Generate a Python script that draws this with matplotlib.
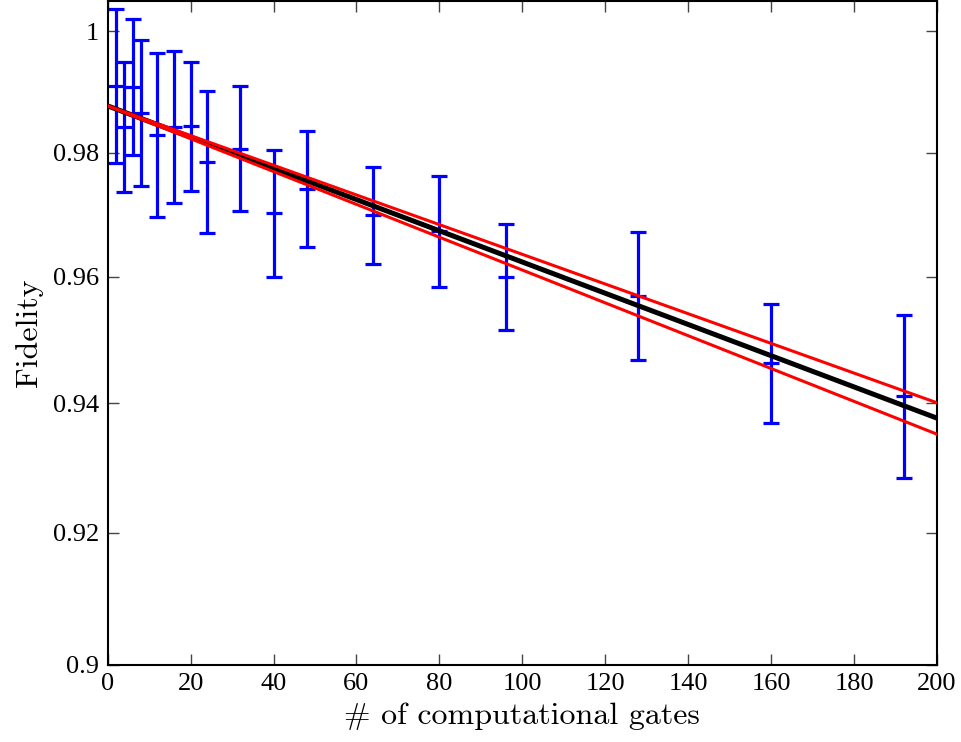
import matplotlib
matplotlib.use("Agg")
import matplotlib.pyplot as plt
from matplotlib.ticker import FixedLocator, NullLocator, FixedFormatter

# measured fidelity vs number of gates (mean and half-width of error bar)
gates = [2, 4, 6, 8, 12, 16, 20, 24, 32, 40, 48, 64, 80, 96, 128, 160, 192]
fidelity = [0.9910, 0.9843, 0.9908, 0.9866, 0.9830, 0.9843, 0.9844, 0.9786,
            0.9807, 0.9702, 0.9742, 0.9699, 0.9673, 0.9600, 0.9570, 0.9463, 0.9412]
fid_err = [0.0127, 0.0106, 0.0112, 0.0120, 0.0134, 0.0125, 0.0106, 0.0116,
           0.0102, 0.0102, 0.0094, 0.0078, 0.0089, 0.0084, 0.0102, 0.0093, 0.0128]

# exponential fit (straight on the log axis) and its confidence bounds
fit_x = [0, 200]
fit_mid = [0.9877, 0.9377]
fit_hi = [0.9877, 0.9401]
fit_lo = [0.9877, 0.9352]

yticks = [0.9, 0.92, 0.94, 0.96, 0.98, 1.0]
ytick_labels = ["0.9", "0.92", "0.94", "0.96", "0.98", "1"]
xticks = list(range(0, 201, 20))

fig = plt.figure(figsize=(9.61, 7.42), dpi=100)
ax = fig.add_axes([0.112, 0.104, 0.863, 0.894])

ax.errorbar(gates, fidelity, yerr=fid_err, fmt='_', color='blue', ecolor='blue',
            elinewidth=2.3, capsize=5.5, capthick=2.3, markersize=11,
            markeredgewidth=2.3, zorder=2)
ax.plot(fit_x, fit_mid, color='black', lw=3.6, zorder=3)
ax.plot(fit_x, fit_hi, color='red', lw=2.2, zorder=4)
ax.plot(fit_x, fit_lo, color='red', lw=2.2, zorder=4)

ax.set_yscale('log')
ax.set_xlim(0, 200)
ax.set_ylim(0.9, 1.005)
ax.yaxis.set_major_locator(FixedLocator(yticks))
ax.yaxis.set_major_formatter(FixedFormatter(ytick_labels))
ax.yaxis.set_minor_locator(NullLocator())
ax.set_xticks(xticks)

for lab in ax.get_xticklabels() + ax.get_yticklabels():
    lab.set_family('Liberation Serif')
    lab.set_fontsize(19)

ax.tick_params(direction='in', length=8, width=1, color='#444444',
               top=True, right=True, pad=6)
for s in ax.spines.values():
    s.set_linewidth(1.5)

ax.set_xlabel('# of computational gates', family='cmr10', fontsize=23, labelpad=5)
ax.set_ylabel('Fidelity', family='cmr10', fontsize=23, labelpad=7)

fig.savefig('out.png', dpi=100)
